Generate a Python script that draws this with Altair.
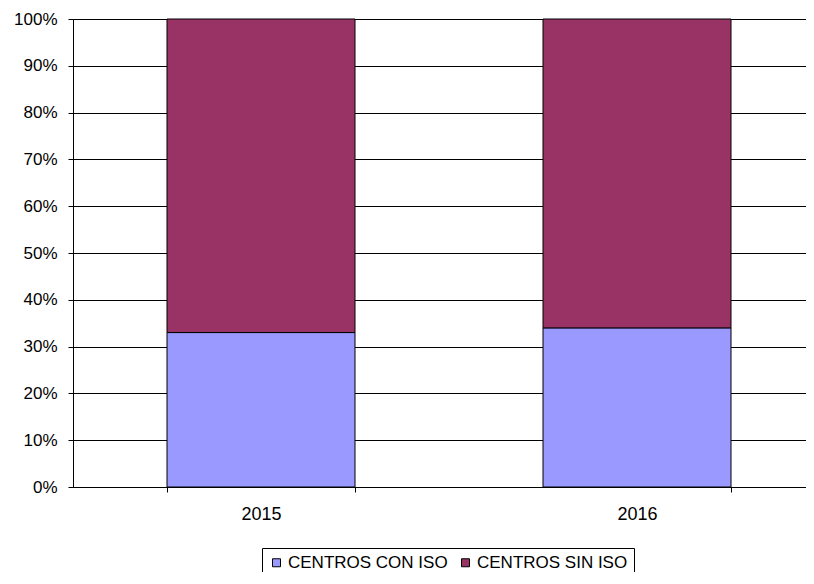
import altair as alt
import pandas as pd

years = ["2015", "2016"]
series = ["CENTROS CON ISO", "CENTROS SIN ISO"]
con_iso = [0.33, 0.34]
sin_iso = [0.67, 0.66]
colors = ["#9999FF", "#993366"]

rows = []
for i, y in enumerate(years):
    rows.append({"year": y, "serie": series[0], "value": con_iso[i], "ord": 0})
    rows.append({"year": y, "serie": series[1], "value": sin_iso[i], "ord": 1})
df = pd.DataFrame(rows)

font = "Liberation Sans"

chart = alt.Chart(df).mark_bar(stroke="black", strokeWidth=1).encode(
    x=alt.X("year:N", title=None,
            scale=alt.Scale(range=[0, 752], paddingInner=0.5, paddingOuter=0.25),
            axis=alt.Axis(labelAngle=0, tickBand="extent", tickSize=5, tickColor="black",
                          domainColor="black", labelColor="black", labelFontSize=18,
                          labelFont=font, labelPadding=13, grid=False)),
    y=alt.Y("value:Q", title=None, stack="zero",
            scale=alt.Scale(domain=[0, 1], nice=False),
            axis=alt.Axis(format=".0%", values=[i / 10 for i in range(11)], tickSize=5,
                          tickColor="black", domainColor="black", labelColor="black",
                          labelFontSize=17, labelFont=font, labelPadding=11,
                          gridColor="black", gridOpacity=1)),
    color=alt.Color("serie:N", title=None,
                    scale=alt.Scale(domain=series, range=colors),
                    legend=alt.Legend(orient="none", legendX=189, legendY=529, direction="horizontal",
                                      strokeColor="black", padding=6, symbolType="square",
                                      symbolSize=64, symbolStrokeColor="black", symbolStrokeWidth=1,
                                      labelFontSize=17, labelFont=font, labelColor="black",
                                      labelOffset=3, columnPadding=9, symbolOpacity=1)),
    order=alt.Order("ord:Q"),
).properties(
    width=733, height=468,
    autosize=alt.AutoSizeParams(type="none"),
    padding={"left": 65, "top": 11, "right": 0, "bottom": 85},
).configure_view(stroke="#808080", strokeWidth=1).configure(background="white")

chart.save("out.html", embed_options={"renderer": "svg", "actions": False})
